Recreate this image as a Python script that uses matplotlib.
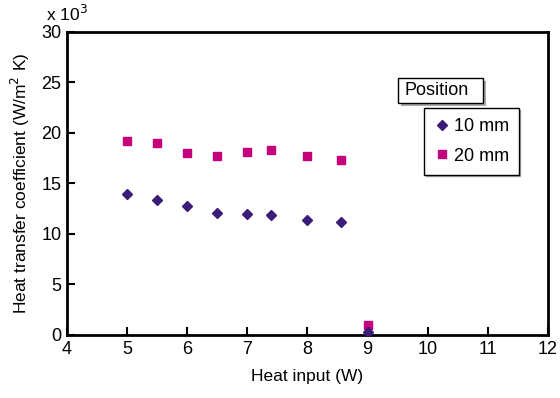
import matplotlib.pyplot as plt
from matplotlib.patches import Rectangle

plt.rcParams["font.family"] = ["Liberation Sans", "DejaVu Sans"]

heat_10mm = [5.0, 5.5, 6.0, 6.5, 7.0, 7.4, 8.0, 8.55, 9.0]
htc_10mm = [14.0, 13.4, 12.8, 12.1, 12.0, 11.9, 11.4, 11.2, 0.3]

heat_20mm = [5.0, 5.5, 6.0, 6.5, 7.0, 7.4, 8.0, 8.55, 9.0]
htc_20mm = [19.2, 19.0, 18.0, 17.7, 18.1, 18.3, 17.7, 17.3, 1.0]

c_10 = "#3b1c78"
c_20 = "#c4007c"

fig = plt.figure(figsize=(5.6, 3.98), dpi=100)
ax = fig.add_axes([0.1196, 0.1583, 0.859, 0.7613])

ax.plot(heat_10mm, htc_10mm, "D", color=c_10, markersize=5.5, label="10 mm", zorder=3)
ax.plot(heat_20mm, htc_20mm, "s", color=c_20, markersize=6, label="20 mm", zorder=2)

ax.set_xlim(4, 12)
ax.set_ylim(0, 30)
ax.set_xticks(range(4, 13))
ax.set_yticks(range(0, 31, 5))
ax.tick_params(direction="in", length=6, width=1.5, labelsize=13, pad=4)
ax.tick_params(top=False, right=False)
for s in ax.spines.values():
    s.set_linewidth(2)

ax.set_xlabel("Heat input (W)", fontsize=12.5, labelpad=8)
ax.set_ylabel("Heat transfer coefficient (W/m$^2$ K)", fontsize=12.5, labelpad=7)
fig.text(0.082, 0.965, "x 10$^3$", fontsize=12.5, ha="left", va="center")

# legend (entries) with shadow
leg = ax.legend(loc="upper left", bbox_to_anchor=(0.742, 0.749), borderaxespad=0,
                frameon=True, fancybox=False,
                shadow={"color": "#a8a8a8", "alpha": 1, "ox": 1.2, "oy": -1.2},
                fontsize=13, handletextpad=0.2, handlelength=0.9,
                borderpad=0.55, labelspacing=0.7)
leg.get_frame().set_edgecolor("black")
leg.get_frame().set_linewidth(1)

# separate "Position" title box with shadow
bx, by, bw, bh = 0.688, 0.766, 0.177, 0.0825
ax.add_patch(Rectangle((bx + 0.006, by - 0.01), bw, bh, transform=ax.transAxes,
                       fc="#a8a8a8", ec="none", zorder=6))
ax.add_patch(Rectangle((bx, by), bw, bh, transform=ax.transAxes,
                       fc="white", ec="black", lw=1, zorder=7))
ax.text(bx + 0.013, by + bh / 2, "Position", transform=ax.transAxes, fontsize=13,
        ha="left", va="center", zorder=8)

fig.savefig("out.png", dpi=100)
